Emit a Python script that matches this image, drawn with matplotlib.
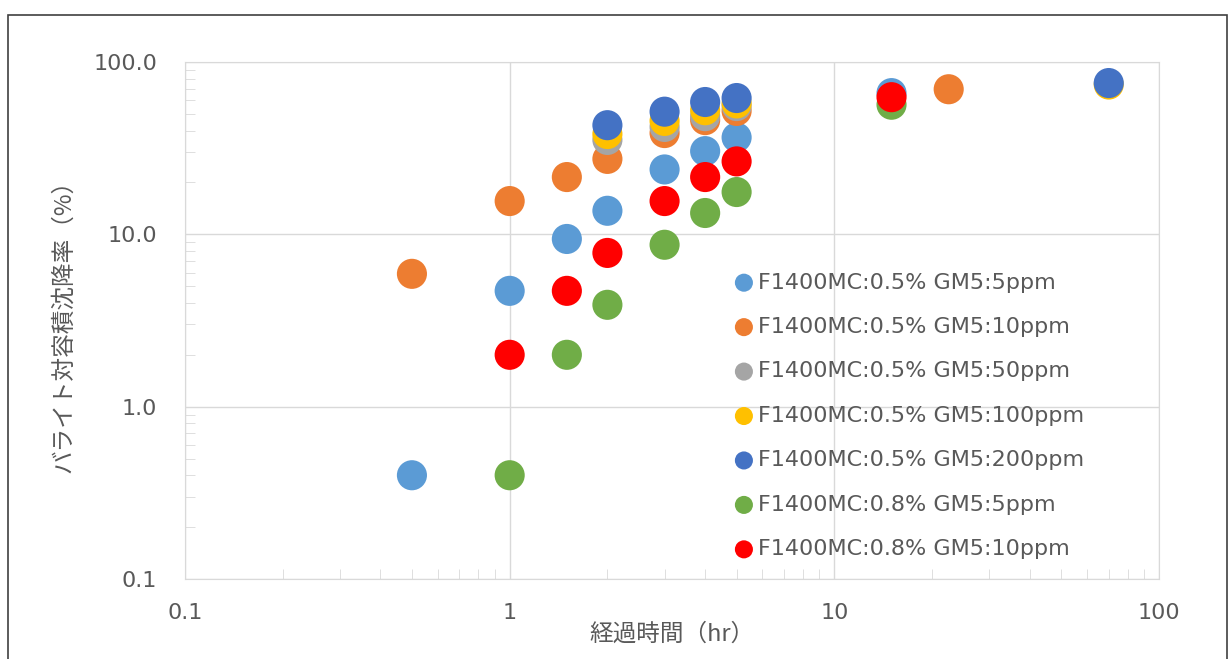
import numpy as np
import matplotlib
matplotlib.use("Agg")
import matplotlib.pyplot as plt
from matplotlib.ticker import LogLocator, FixedLocator, FixedFormatter, NullFormatter
from matplotlib.patches import Rectangle

plt.rcParams['font.family'] = ['Noto Sans CJK JP', 'DejaVu Sans']

# elapsed time (hr) and sedimentation ratio (%) per condition
labels = [
    "F1400MC:0.5% GM5:5ppm",
    "F1400MC:0.5% GM5:10ppm",
    "F1400MC:0.5% GM5:50ppm",
    "F1400MC:0.5% GM5:100ppm",
    "F1400MC:0.5% GM5:200ppm",
    "F1400MC:0.8% GM5:5ppm",
    "F1400MC:0.8% GM5:10ppm",
]
colors = ["#5B9BD5", "#ED7D31", "#A5A5A5", "#FFC000", "#4472C4", "#70AD47", "#FF0000"]

t_05_5 = [0.5, 1, 1.5, 2, 3, 4, 5, 15]
r_05_5 = [0.4, 4.7, 9.4, 13.7, 23.8, 30.4, 36.5, 66.0]

t_05_10 = [0.5, 1, 1.5, 2, 3, 4, 5, 22.5]
r_05_10 = [5.9, 15.6, 21.5, 27.4, 38.7, 46.0, 52.0, 69.5]

t_05_50 = [2, 3, 4, 5]
r_05_50 = [35.3, 42.0, 48.5, 55.5]

t_05_100 = [2, 3, 4, 5, 70]
r_05_100 = [38.2, 45.5, 52.5, 57.5, 74.0]

t_05_200 = [2, 3, 4, 5, 70]
r_05_200 = [43.0, 51.5, 58.6, 61.8, 75.5]

t_08_5 = [1, 1.5, 2, 3, 4, 5, 15]
r_08_5 = [0.4, 2.0, 3.9, 8.7, 13.3, 17.6, 56.5]

t_08_10 = [1, 1.5, 2, 3, 4, 5, 15]
r_08_10 = [2.0, 4.7, 7.8, 15.6, 21.5, 26.5, 62.5]

series = [
    (t_05_5, r_05_5), (t_05_10, r_05_10), (t_05_50, r_05_50),
    (t_05_100, r_05_100), (t_05_200, r_05_200),
    (t_08_5, r_08_5), (t_08_10, r_08_10),
]

fig = plt.figure(figsize=(12.3, 6.59), dpi=100)
ax = fig.add_axes([0.1504, 0.1214, 0.7919, 0.7845])

for (t, r), c, lab in zip(series, colors, labels):
    ax.scatter(t, r, s=470, color=c, edgecolors='none', label=lab, zorder=3)

ax.set_xscale('log')
ax.set_yscale('log')
ax.set_xlim(0.1, 100)
ax.set_ylim(0.1, 100)

grid_c = "#D9D9D9"
txt_c = "#595959"
ax.grid(True, which='major', color=grid_c, lw=1)
for s in ax.spines.values():
    s.set_color(grid_c)

xt = [0.1, 1, 10, 100]
yt = [0.1, 1, 10, 100]
ax.xaxis.set_major_locator(FixedLocator(xt))
ax.xaxis.set_major_formatter(FixedFormatter(["0.1", "1", "10", "100"]))
ax.yaxis.set_major_locator(FixedLocator(yt))
ax.yaxis.set_major_formatter(FixedFormatter(["%.1f" % v for v in yt]))
ax.xaxis.set_minor_locator(LogLocator(base=10, subs=np.arange(2, 10)))
ax.yaxis.set_minor_locator(LogLocator(base=10, subs=np.arange(2, 10)))
ax.xaxis.set_minor_formatter(NullFormatter())
ax.yaxis.set_minor_formatter(NullFormatter())

ax.tick_params(which='major', length=0, labelsize=16, colors=txt_c)
ax.tick_params(axis='x', which='major', pad=17)
ax.tick_params(axis='y', which='major', pad=20)
ax.tick_params(which='minor', direction='in', length=7, color=grid_c)
for lbl in ax.get_xticklabels() + ax.get_yticklabels():
    lbl.set_family('DejaVu Sans')

ax.set_xlabel("経過時間（hr）", fontsize=17, color=txt_c, labelpad=0)
ax.set_ylabel("バライト対容積沈降率（%）", fontsize=17, color=txt_c, labelpad=13)

leg = ax.legend(loc='upper left', bbox_to_anchor=(0.551, 0.61), frameon=False,
                prop={'family': 'DejaVu Sans', 'size': 16},
                markerscale=0.6, handletextpad=0.05,
                labelspacing=1.1, borderaxespad=0, handlelength=1.2)
for txt in leg.get_texts():
    txt.set_color(txt_c)

fig.patches.append(Rectangle((8 / 1230, -0.05), 1219 / 1230, 1.04 - 8 / 659,
                             transform=fig.transFigure, fill=False,
                             edgecolor="#404040", lw=1.2))

fig.savefig("out.png", dpi=100)
